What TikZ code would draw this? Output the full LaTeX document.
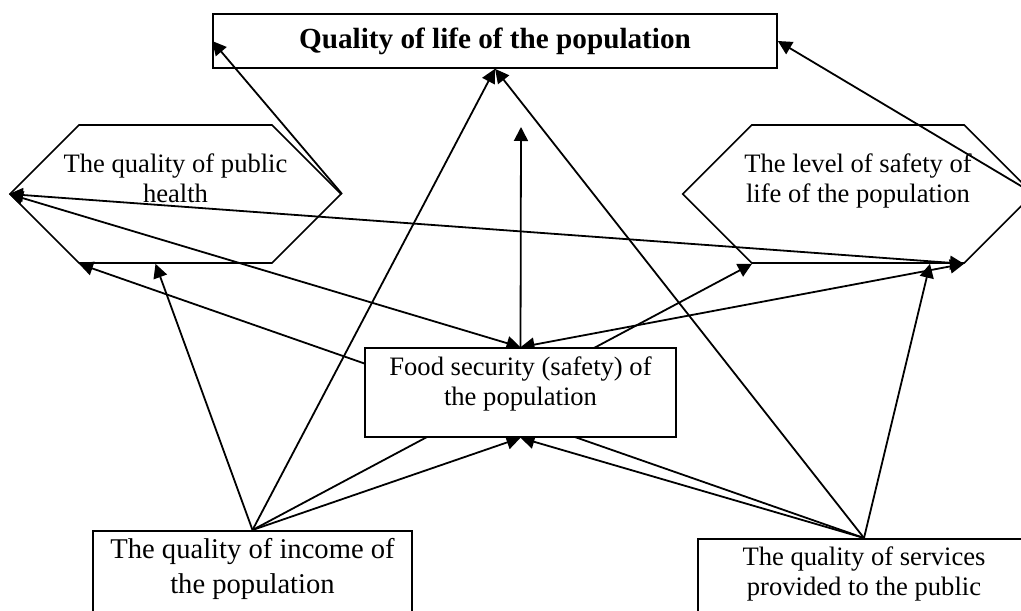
\documentclass[tikz,border=0pt]{standalone}
\usepackage{fontspec}
\setmainfont{Liberation Serif}
\usetikzlibrary{calc, shapes.symbols, arrows.meta, backgrounds}
\tikzset{
	every text node part/.style={
		align=center
	},
	factor/.style={
		rectangle,
		draw,
		line width=0.8pt,
		inner xsep=0pt,
		font=\fontsize{13.3}{15}\selectfont
	},
	hexa/.style={
		signal,
		signal to=west and east,
		signal pointer angle=90,
		draw,
		line width=0.8pt,
		minimum height=69pt,
		text height=24.5pt,
		text depth=16.5pt,
		font=\fontsize{13.3}{15}\selectfont
	},
	link/.style={-{Triangle[length=7pt, width=7pt]}, line width=0.9pt},
	twolink/.style={{Triangle[length=7pt, width=7pt]}-{Triangle[length=7pt, width=7pt]}, line width=0.9pt},
}

\begin{document}
\begin{tikzpicture}[x=0.5pt, y=-0.5pt]
	\useasboundingbox (0,0) rectangle (1021,610);

	\node (life) [factor, minimum width=282pt, minimum height=27pt, font=\fontsize{14.6}{17}\selectfont\bfseries] at (495,41) {Quality of life of the population};

	\node (health) [hexa, inner xsep=-7.75pt] at (175.5,194) {The quality of public\\health};
	\node (safety) [hexa, inner xsep=-3.75pt] at (858,194) {The level of safety of\\life of the population};

	\node (food) [factor, fill=white, minimum width=155.5pt, minimum height=44.5pt, inner ysep=2pt, text height=24.5pt, text depth=12pt] at (520.5,392.5) {Food security (safety) of\\the population};

	\node (income) [factor, anchor=north, minimum width=159.5pt, inner ysep=4pt, text height=27.5pt, text depth=10pt, font=\fontsize{14.3}{17.5}\selectfont] at (252.5,530) {The quality of income of\\the population};
	\node (services) [factor, anchor=north, minimum width=166pt, inner ysep=4pt, text height=24.5pt, text depth=10pt] at (864,538) {The quality of services\\provided to the public};

	\coordinate (up) at (521,127);
	\coordinate (healthbl) at ($(health.south)+(-96.5,0)$);
	\coordinate (healthb) at ($(health.south)+(-20,0)$);
	\coordinate (safetybl) at ($(safety.south)+(-106,0)$);
	\coordinate (safetybr) at ($(safety.south)+(106,0)$);
	\coordinate (safetyb) at ($(safety.south)+(72,0)$);

	\begin{scope}[on background layer]
		\draw[link] (health.east) to (life.west);
		\draw[link] (income.north) to (life.south);
		\draw[link] (services.north) to (life.south);
		\draw[link] (safety.east) to (life.east);
		\draw[link] (food.north) to (up);
		\draw[twolink] (health.west) to (safetybr);
		\draw[twolink] (health.west) to (food.north);
		\draw[twolink] (safetybr) to (food.north);
		\draw[link] (income.north) to (healthb);
		\draw[link] (income.north) to (food.south);
		\draw[link] (income.north) to (safetybl);
		\draw[link] (services.north) to (healthbl);
		\draw[link] (services.north) to (food.south);
		\draw[link] (services.north) to (safetyb);
	\end{scope}
\end{tikzpicture}
\end{document}
